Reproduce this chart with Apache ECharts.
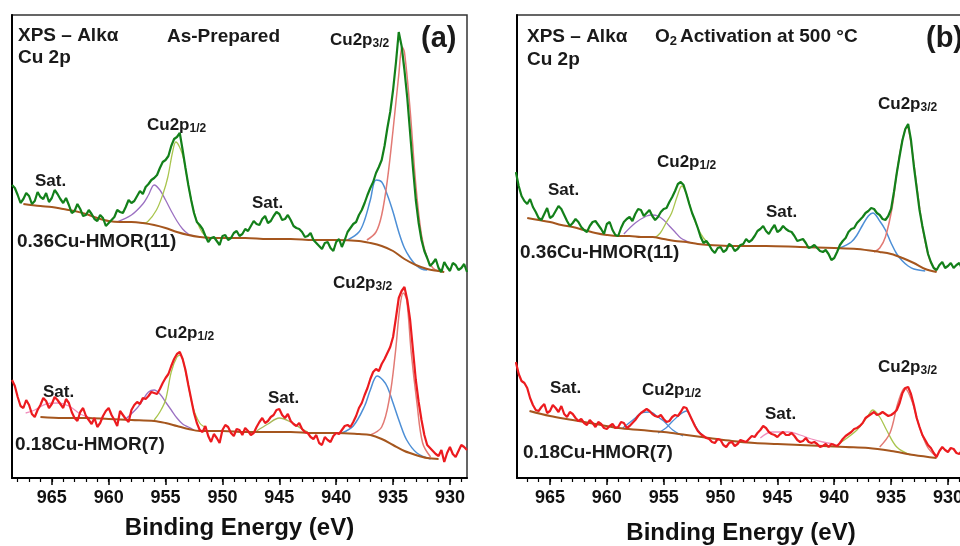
<!DOCTYPE html>
<html>
<head>
<meta charset="utf-8">
<title>XPS Cu 2p</title>
<script src="https://cdn.jsdelivr.net/npm/echarts@6/dist/echarts.min.js"></script>
<style>
    html, body {margin: 0; padding: 0; background: #fff;}
    #xps {width: 960px; height: 546px;}
</style>
</head>
<body>
<div id="xps"></div>
<script>
// binding energy grid of the measured spectra (eV)
const energyA = [968.5, 968.25,
    968, 967.75, 967.5, 967.25, 967, 966.75, 966.5, 966.25,
    966, 965.75, 965.5, 965.25, 965, 964.75, 964.5, 964.25,
    964, 963.75, 963.5, 963.25, 963, 962.75, 962.5, 962.25,
    962, 961.75, 961.5, 961.25, 961, 960.75, 960.5, 960.25,
    960, 959.75, 959.5, 959.25, 959, 958.75, 958.5, 958.25,
    958, 957.75, 957.5, 957.25, 957, 956.75, 956.5, 956.25,
    956, 955.75, 955.5, 955.25, 955, 954.75, 954.5, 954.25,
    954, 953.75, 953.5, 953.25, 953, 952.75, 952.5, 952.25,
    952, 951.75, 951.5, 951.25, 951, 950.75, 950.5, 950.25,
    950, 949.75, 949.5, 949.25, 949, 948.75, 948.5, 948.25,
    948, 947.75, 947.5, 947.25, 947, 946.75, 946.5, 946.25,
    946, 945.75, 945.5, 945.25, 945, 944.75, 944.5, 944.25,
    944, 943.75, 943.5, 943.25, 943, 942.75, 942.5, 942.25,
    942, 941.75, 941.5, 941.25, 941, 940.75, 940.5, 940.25,
    940, 939.75, 939.5, 939.25, 939, 938.75, 938.5, 938.25,
    938, 937.75, 937.5, 937.25, 937, 936.75, 936.5, 936.25,
    936, 935.75, 935.5, 935.25, 935, 934.75, 934.5, 934.25,
    934, 933.75, 933.5, 933.25, 933, 932.75, 932.5, 932.25,
    932, 931.75, 931.5, 931.25, 931, 930.75, 930.5, 930.25,
    930, 929.75, 929.5, 929.25, 929, 928.75, 928.5];
const energyB = energyA.slice(2);

// measured intensities (a.u., stacked offsets), one row = 2 eV
const asPrep036 = [293, 290,
    283, 275, 279, 285, 282, 274, 277, 286,
    281, 279, 285, 276, 280, 288, 284, 279,
    275, 280, 273, 265, 267, 274, 269, 262,
    263, 268, 264, 259, 257, 263, 260, 252,
    255, 258, 261, 268, 266, 265, 271, 278,
    275, 277, 282, 287, 284, 291, 294, 298,
    300, 303, 310, 316, 318, 322, 332, 339,
    341, 345, 328, 310, 293, 278, 265, 256,
    253, 249, 242, 236, 240, 241, 237, 233,
    242, 243, 238, 240, 245, 247, 242, 244,
    249, 247, 252, 257, 254, 253, 259, 262,
    255, 257, 262, 266, 264, 258, 259, 263,
    258, 252, 250, 249, 246, 241, 242, 245,
    238, 235, 232, 229, 235, 236, 230, 227,
    236, 239, 231, 238, 246, 250, 254, 256,
    263, 268, 275, 283, 290, 296, 305, 311,
    318, 332, 350, 366, 388, 415, 446, 432,
    408, 380, 345, 310, 278, 255, 238, 227,
    220, 212, 215, 219, 210, 206, 216, 211,
    207, 215, 213, 208, 210, 214, 206];
const asPrep018 = [98, 92,
    81, 72, 70, 78, 73, 64, 61, 68,
    73, 80, 77, 70, 74, 81, 78, 74,
    70, 79, 75, 66, 60, 57, 66, 70,
    62, 58, 54, 60, 51, 55, 62, 67,
    70, 63, 58, 52, 67, 63, 59, 56,
    68, 73, 76, 74, 80, 79, 82, 86,
    85, 84, 89, 95, 100, 104, 112, 119,
    124, 126, 119, 108, 93, 79, 65, 55,
    48, 46, 52, 42, 36, 44, 40, 35,
    48, 53, 51, 45, 42, 49, 48, 43,
    50, 47, 43, 45, 51, 56, 60, 55,
    57, 61, 63, 68, 69, 63, 60, 64,
    57, 54, 52, 55, 49, 46, 45, 41,
    39, 43, 35, 33, 41, 38, 36, 42,
    45, 44, 48, 52, 53, 51, 56, 62,
    70, 75, 83, 90, 99, 106, 109, 107,
    114, 119, 125, 131, 141, 160, 180, 187,
    191, 178, 158, 128, 98, 76, 58, 43,
    33, 30, 27, 24, 22, 28, 16, 25,
    31, 24, 21, 27, 33, 31, 28];
const o2Act036 = [
    306, 292, 282, 277, 274, 279, 271, 266,
    260, 258, 264, 270, 260, 262, 267, 272,
    269, 263, 257, 252, 255, 259, 256, 251,
    248, 246, 252, 256, 257, 253, 249, 244,
    254, 256, 248, 243, 242, 250, 256, 259,
    261, 257, 264, 269, 268, 262, 265, 268,
    262, 258, 261, 266, 269, 270, 276, 281,
    287, 294, 296, 293, 284, 274, 265, 258,
    250, 241, 235, 237, 233, 228, 225, 230,
    231, 226, 228, 234, 232, 227, 229, 233,
    234, 239, 236, 238, 242, 247, 249, 252,
    247, 244, 249, 253, 246, 248, 252, 249,
    247, 246, 242, 237, 238, 239, 235, 230,
    231, 233, 230, 227, 226, 228, 224, 218,
    220, 226, 233, 237, 240, 246, 249, 250,
    255, 258, 261, 265, 267, 270, 269, 265,
    263, 259, 258, 262, 269, 286, 305, 322,
    338, 349, 354, 338, 312, 290, 268, 252,
    238, 224, 216, 210, 208, 213, 216, 210,
    212, 215, 210, 213, 215, 209, 211];
const o2Act018 = [
    116, 104, 97, 95, 90, 80, 73, 68,
    67, 71, 74, 65, 67, 73, 70, 66,
    72, 64, 61, 66, 64, 60, 57, 59,
    55, 53, 58, 55, 51, 56, 54, 50,
    49, 52, 54, 50, 51, 56, 55, 50,
    52, 55, 58, 62, 65, 67, 69, 67,
    64, 62, 61, 63, 59, 56, 57, 61,
    63, 62, 66, 71, 70, 64, 58, 52,
    47, 44, 42, 40, 39, 36, 35, 39,
    38, 33, 31, 35, 36, 32, 34, 38,
    37, 36, 39, 42, 41, 45, 48, 52,
    50, 46, 44, 43, 41, 44, 46, 43,
    43, 45, 42, 38, 36, 37, 40, 36,
    35, 36, 34, 31, 32, 34, 31, 34,
    33, 32, 35, 39, 42, 44, 46, 49,
    50, 52, 55, 60, 62, 64, 66, 63,
    64, 66, 64, 62, 63, 65, 68, 75,
    85, 90, 91, 84, 73, 60, 51, 43,
    38, 33, 30, 25, 21, 27, 31, 28,
    26, 30, 29, 25, 24, 28, 27];

// fitted components [eV, intensity]
const aTopBg = [[967.5, 274], [966, 272], [965, 271], [964, 269], [963, 267], [962, 264], [961, 260], [960, 257], [959, 256], [958, 256],
    [957, 255], [956, 253], [955, 250], [954, 246], [953, 243], [952, 241], [951, 240], [950, 240], [948, 240], [946, 239], [944, 239],
    [942, 238], [940, 238], [938, 237], [937, 235], [936, 232], [935, 227], [934, 219], [933, 213], [932, 209], [931, 207], [930.5, 206]];
const aTopPurple = [[959.3, 256], [958, 263], [957, 274], [956.5, 283], [956, 293], [955.5, 288], [955, 278], [954.5, 267], [954, 257], [953.5, 249], [953, 244], [952.5, 242]];
const aTopYellow = [[957, 255], [956.6, 256], [955.8, 268], [955.2, 285], [954.8, 301], [954.4, 325], [954.1, 336], [953.5, 323], [953, 293], [952.5, 266], [952, 250], [951.5, 242], [951, 240]];
const aTopBlue = [[939, 238], [938, 246], [937.5, 258], [937, 278], [936.5, 298], [936, 296], [935.5, 283], [935, 266], [934.5, 246], [934, 230], [933.5, 220], [933, 213], [932.5, 209], [932, 208]];
const aTopRed = [[937.3, 238], [936.5, 246], [936, 263], [935.5, 298], [935, 348], [934.5, 403], [934.2, 431], [934, 426], [933.5, 368], [933, 293], [932.5, 243], [932, 220], [931.5, 210], [931, 207]];

const aBotBg = [[966, 61], [964, 60], [962, 60], [960, 59], [958, 58], [956, 57], [955, 55], [954, 52], [953, 49], [952, 47], [950, 47], [948, 46],
    [946, 46], [944, 46], [942, 45], [940, 45], [938, 44], [937, 43], [936, 39], [935, 33], [934, 27], [933, 23], [932, 20], [931, 19]];
const aBotPink = [[967.3, 65], [966.5, 68], [965.5, 74], [964.5, 75], [963.5, 72], [962.5, 64], [961.5, 60]];
const aBotPurple = [[958.5, 59], [957.5, 70], [957, 78], [956.5, 86], [956, 88], [955.5, 84], [955, 76], [954.5, 68], [954, 60], [953.5, 54], [953, 51], [952.5, 48]];
const aBotYellow = [[956, 58], [955.5, 66], [955, 78], [954.5, 106], [954, 121], [953.7, 123], [953.2, 104], [952.6, 71], [952, 55], [951.4, 50]];
const aBotSat = [[947, 47], [946, 54], [945, 60], [944, 56], [943, 49], [942.5, 46]];
const aBotBlue = [[939.5, 45], [938.5, 52], [937.5, 72], [937, 88], [936.4, 102], [935.9, 98], [935.5, 91], [935, 75], [934.4, 55], [933.8, 38], [932.9, 25], [931.7, 19]];
const aBotRed = [[937, 43], [936, 51], [935.3, 81], [934.8, 125], [934.4, 171], [934.1, 185], [933.8, 178], [933.4, 125], [932.9, 75], [932.4, 35], [931.7, 21]];

const bTopBg = [[967, 260], [966, 258], [965, 256], [964, 253], [963, 251], [962, 248], [961, 245], [960, 243], [959, 242], [958, 242], [957, 241],
    [956, 241], [955, 239], [954, 237], [953, 236], [952, 234], [951, 233], [949, 232], [946, 232], [943, 231], [940, 230], [938, 229],
    [936, 226], [935, 224], [934, 220], [933, 215], [932, 209], [931, 206]];
const bTopPurple = [[958.5, 244], [957.5, 255], [956.5, 262], [956, 263], [955.5, 262], [955, 258], [954.5, 252], [954, 246], [953.5, 240], [953, 237], [952.5, 235]];
const bTopYellow = [[955.8, 240], [955.3, 245], [954.8, 255], [954.3, 265], [953.8, 282], [953.4, 292], [953, 284], [952.5, 265], [952, 250], [951.5, 240], [951, 234]];
const bTopBlue = [[939.5, 230], [938.5, 236], [938, 243], [937.5, 253], [937, 262], [936.6, 265], [936, 257], [935.5, 248], [935, 235], [934.5, 224], [934, 217], [933.5, 212], [933, 209], [932, 207]];
const bTopRed = [[936.5, 226], [936, 230], [935.5, 241], [934.9, 271], [934.5, 305], [934, 338], [933.6, 351], [933.2, 331], [932.7, 288], [932.2, 248], [931.6, 218], [931, 206]];

const bBotBg = [[966.8, 67], [965, 62], [963, 58], [961, 54], [959, 50], [957, 48], [955, 46], [953, 43], [951, 40], [949, 37], [947, 35],
    [945, 34], [943, 33], [941, 32], [939, 31], [937, 30], [935, 27], [933, 23], [931, 20]];
const bBotBlue1 = [[958.6, 50], [957.5, 60], [957, 65], [956.2, 66], [955.5, 61], [955, 57], [954.2, 48], [953.3, 42]];
const bBotBlue2 = [[955.5, 45], [954.8, 50], [954.2, 57], [953.5, 64], [953, 67], [952.5, 58], [952, 48], [951.5, 42]];
const bBotPink = [[946.5, 40], [945.5, 46], [944, 46], [943, 43], [942, 39], [941, 36], [940, 34]];
const bBotYellow = [[939.5, 35], [938, 48], [937.1, 61], [936.6, 68], [936, 61], [935.4, 48], [934.5, 31], [933.3, 23]];
const bBotRed = [[936, 31], [935.1, 45], [934.4, 75], [933.8, 90], [933.2, 78], [932.5, 51], [931.8, 31], [931, 21]];

const majorTicks = [965, 960, 955, 950, 945, 940, 935, 930];
const minorTicks = [968, 967, 966, 965, 964, 963, 962, 961, 960, 959, 958, 957, 956, 955, 954, 953, 952, 951, 950, 949,
    948, 947, 946, 945, 944, 943, 942, 941, 940, 939, 938, 937, 936, 935, 934, 933, 932, 931, 930, 929];

const FONT = '"Liberation Sans", Arial, sans-serif';
const C = {
    green: '#13801a', red: '#ec1b1f', brown: '#a5561e', fitRed: '#e27a74',
    blue: '#4d8fd6', purple: '#9b70c2', yellow: '#a9c54e', pink: '#f08fbd', olive: '#a8b85a'
};

const zip = (e, v) => e.map((x, i) => [x, v[i]]);

const line = (data, xi, color, width, z, smooth) => ({
    type: 'line', xAxisIndex: xi, yAxisIndex: xi / 2, data: data,
    showSymbol: false, smooth: smooth ? 0.35 : false, z: z, silent: true,
    lineStyle: {color: color, width: width}
});

const mainX = (grid, max, gap) => ({
    gridIndex: grid, type: 'value', min: 928.5, max: max, inverse: true,
    axisLine: {lineStyle: {color: '#000', width: 2}},
    axisTick: {customValues: majorTicks, length: 7, lineStyle: {color: '#000', width: 1.5}},
    axisLabel: {customValues: majorTicks, margin: 11, fontSize: 18, fontWeight: 'bold', color: '#111', fontFamily: FONT},
    splitLine: {show: false},
    name: 'Binding Energy (eV)', nameLocation: 'middle', nameGap: gap,
    nameTextStyle: {fontSize: 24, fontWeight: 'bold', color: '#111', fontFamily: FONT}
});
const minorX = (grid, max) => ({
    gridIndex: grid, type: 'value', position: 'bottom', min: 928.5, max: max, inverse: true,
    axisLine: {show: false},
    axisTick: {customValues: minorTicks, length: 4, lineStyle: {color: '#000', width: 1.2}},
    axisLabel: {show: false}, splitLine: {show: false}
});
const yAx = (grid) => ({
    gridIndex: grid, type: 'value', min: 0, max: 463,
    axisLine: {show: true, lineStyle: {color: '#000', width: 2}},
    axisTick: {show: false}, axisLabel: {show: false}, splitLine: {show: false}
});

const txt = (x, y, text, size) => ({
    type: 'text', x: x, y: y, silent: true,
    style: {text: text, fontSize: size, fontWeight: 'bold', fontFamily: FONT, fill: '#1a1a1a', verticalAlign: 'middle'}
});
const sub = (x, y, main, low, size) => ({
    type: 'text', x: x, y: y, silent: true,
    style: {
        text: '{m|' + main + '}{s|' + low + '}', verticalAlign: 'middle',
        rich: {
            m: {fontSize: size, fontWeight: 'bold', fontFamily: FONT, fill: '#1a1a1a', lineHeight: size + 2},
            s: {fontSize: Math.round(size * 0.68), fontWeight: 'bold', fontFamily: FONT, fill: '#1a1a1a', lineHeight: 6, verticalAlign: 'bottom'}
        }
    }
});

const chart = echarts.init(document.getElementById('xps'));
chart.setOption({
    animation: false,
    grid: [
        {left: 12, top: 15, width: 455, height: 463, show: true, borderColor: '#333', borderWidth: 1.5, outerBoundsMode: 'none', containLabel: false},
        {left: 517, top: 15, width: 448, height: 463, show: true, borderColor: '#333', borderWidth: 1.5, outerBoundsMode: 'none', containLabel: false}
    ],
    xAxis: [mainX(0, 968.5, 38), minorX(0, 968.5), mainX(1, 967.9, 43), minorX(1, 967.9)],
    yAxis: [yAx(0), yAx(1)],
    series: [
        // (a) as-prepared
        line(aTopBg, 0, C.brown, 2, 3, true),
        line(aTopPurple, 0, C.purple, 1.3, 2, true),
        line(aTopYellow, 0, C.yellow, 1.3, 2, true),
        line(aTopBlue, 0, C.blue, 1.5, 2, true),
        line(aTopRed, 0, C.fitRed, 1.5, 2, true),
        line(zip(energyA, asPrep036), 0, C.green, 2.2, 5),
        line(aBotBg, 0, C.brown, 2, 3, true),
        line(aBotPink, 0, C.pink, 1.3, 2, true),
        line(aBotPurple, 0, C.purple, 1.3, 2, true),
        line(aBotYellow, 0, C.yellow, 1.3, 2, true),
        line(aBotSat, 0, C.olive, 1.3, 2, true),
        line(aBotBlue, 0, C.blue, 1.5, 2, true),
        line(aBotRed, 0, C.fitRed, 1.5, 2, true),
        line(zip(energyA, asPrep018), 0, C.red, 2.2, 5),
        // (b) O2 activation
        line(bTopBg, 2, C.brown, 2, 3, true),
        line(bTopPurple, 2, C.purple, 1.3, 2, true),
        line(bTopYellow, 2, C.yellow, 1.3, 2, true),
        line(bTopBlue, 2, C.blue, 1.5, 2, true),
        line(bTopRed, 2, C.fitRed, 1.5, 2, true),
        line(zip(energyB, o2Act036), 2, C.green, 2.2, 5),
        line(bBotBg, 2, C.brown, 2, 3, true),
        line(bBotBlue1, 2, C.blue, 1.3, 2, true),
        line(bBotBlue2, 2, C.blue, 1.3, 2, true),
        line(bBotPink, 2, C.pink, 1.3, 2, true),
        line(bBotYellow, 2, C.yellow, 1.3, 2, true),
        line(bBotRed, 2, C.fitRed, 1.5, 2, true),
        line(zip(energyB, o2Act018), 2, C.red, 2.2, 5)
    ],
    graphic: [
        txt(18, 36, 'XPS – Alkα', 19),
        txt(18, 58, 'Cu 2p', 19),
        txt(167, 37, 'As-Prepared', 19),
        txt(421, 39, '(a)', 29),
        sub(330, 40, 'Cu2p', '3/2', 17),
        sub(147, 125, 'Cu2p', '1/2', 17),
        txt(35, 181, 'Sat.', 17),
        txt(252, 203, 'Sat.', 17),
        txt(17, 242, '0.36Cu-HMOR(11)', 19),
        sub(333, 283, 'Cu2p', '3/2', 17),
        sub(155, 333, 'Cu2p', '1/2', 17),
        txt(43, 392, 'Sat.', 17),
        txt(268, 398, 'Sat.', 17),
        txt(15, 445, '0.18Cu-HMOR(7)', 19),

        txt(527, 37, 'XPS – Alkα', 19),
        sub(655, 37, 'O', '2', 19),
        txt(680, 37, 'Activation at 500 °C', 19),
        txt(926, 39, '(b)', 29),
        txt(527, 60, 'Cu 2p', 19),
        sub(878, 104, 'Cu2p', '3/2', 17),
        sub(657, 162, 'Cu2p', '1/2', 17),
        txt(548, 190, 'Sat.', 17),
        txt(766, 212, 'Sat.', 17),
        txt(520, 253, '0.36Cu-HMOR(11)', 19),
        sub(878, 367, 'Cu2p', '3/2', 17),
        sub(642, 390, 'Cu2p', '1/2', 17),
        txt(550, 388, 'Sat.', 17),
        txt(765, 414, 'Sat.', 17),
        txt(523, 453, '0.18Cu-HMOR(7)', 19)
    ]
});
</script>
</body>
</html>
